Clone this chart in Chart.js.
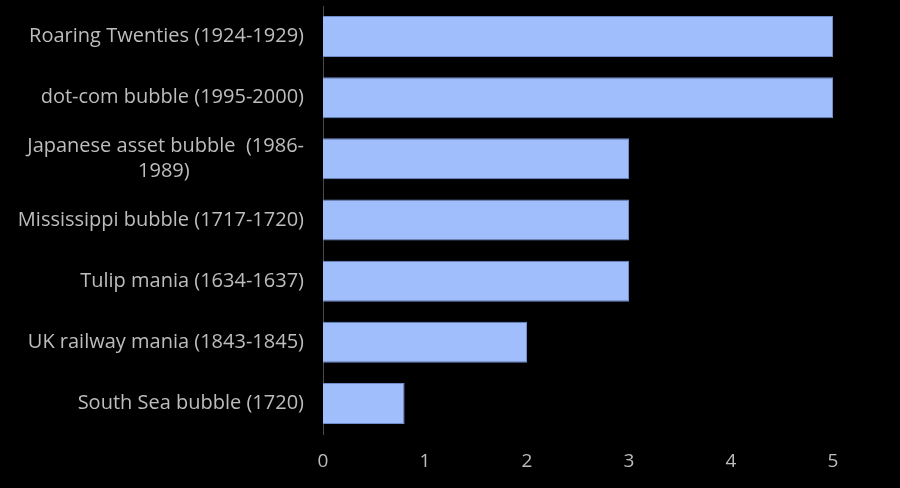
<!DOCTYPE html>
<html>
<head>
<meta charset="utf-8">
<script src="https://cdn.jsdelivr.net/npm/chart.js@4.4.1/dist/chart.umd.min.js"></script>
<style>
  html, body { margin: 0; padding: 0; background: #000; }
  canvas { display: block; }
</style>
</head>
<body>
<canvas id="bubbles" width="900" height="488"></canvas>
<script>
// bubble names, top to bottom
const categories = [
  'Roaring Twenties (1924-1929)',
  'dot-com bubble (1995-2000)',
  ['Japanese asset bubble  (1986-', '1989)' + ' '.repeat(22)],
  'Mississippi bubble (1717-1720)',
  'Tulip mania (1634-1637)',
  'UK railway mania (1843-1845)',
  'South Sea bubble (1720)'
];
const values = [5, 5, 3, 3, 3, 2, 0.8];
const xTicks = [0, 1, 2, 3, 4, 5];

const textColor = '#bdbdbd';
const fontFamily = '"Open Sans", Roboto, sans-serif';

new Chart(document.getElementById('bubbles'), {
  type: 'bar',
  data: {
    labels: categories,
    datasets: [{
      data: values,
      backgroundColor: '#a1befc',
      borderColor: '#6f8ccc',
      borderWidth: 1,
      categoryPercentage: 1,
      barPercentage: 0.67
    }]
  },
  options: {
    indexAxis: 'y',
    responsive: false,
    animation: false,
    layout: { padding: { top: 6, right: 67, left: 0, bottom: 0 } },
    plugins: { legend: { display: false }, tooltip: { enabled: false } },
    scales: {
      x: {
        min: 0,
        max: 5,
        afterBuildTicks: (scale) => { scale.ticks = xTicks.map(v => ({ value: v })); },
        afterFit: (scale) => { scale.height = 54; },
        grid: { display: false, drawTicks: false },
        border: { display: false },
        ticks: { color: textColor, padding: 16, font: { family: fontFamily, size: 19 } }
      },
      y: {
        afterFit: (scale) => {
          scale.width = 323;
          scale.paddingTop = 0;
          scale.paddingBottom = 0;
        },
        grid: { display: false, drawTicks: false },
        border: { display: true, color: '#4a4a4a', width: 1 },
        ticks: { color: textColor, padding: 19, font: { family: fontFamily, size: 20, lineHeight: 1.25 } }
      }
    }
  }
});
</script>
</body>
</html>
